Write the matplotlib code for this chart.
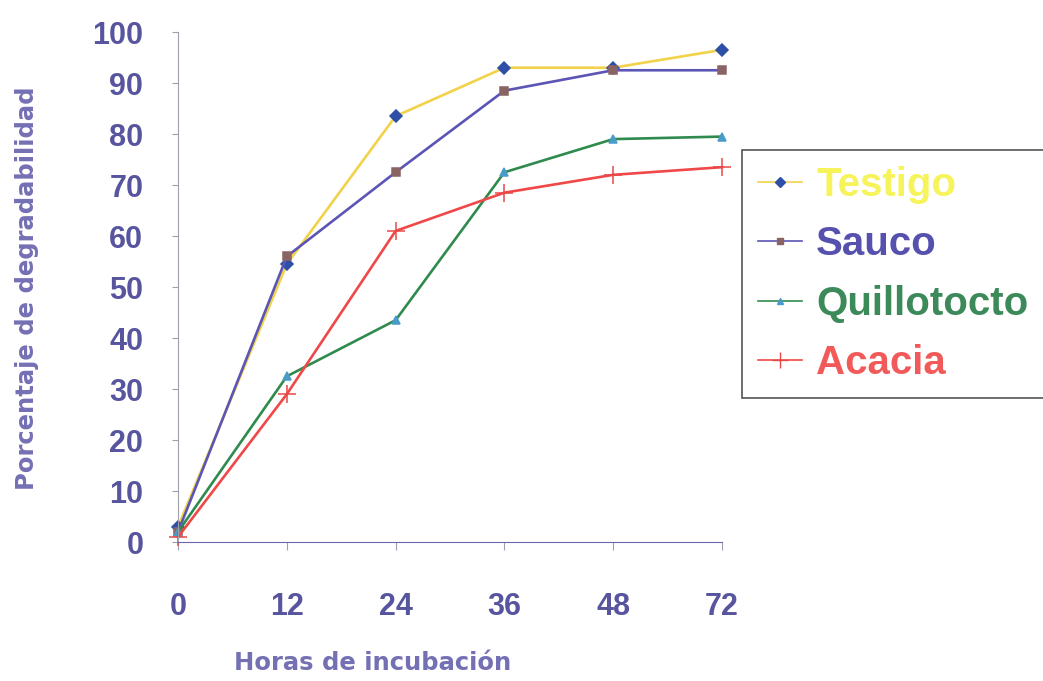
import matplotlib.pyplot as plt
from matplotlib.lines import Line2D

# datos
horas = ['0', '12', '24', '36', '48', '72']
testigo = [3, 54.5, 83.5, 93, 93, 96.5]
sauco = [2, 56, 72.5, 88.5, 92.5, 92.5]
quillotocto = [2, 32.5, 43.5, 72.5, 79, 79.5]
acacia = [1, 29, 61, 68.5, 72, 73.5]

series = ['Testigo', 'Sauco', 'Quillotocto', 'Acacia']
valores = [testigo, sauco, quillotocto, acacia]
line_colors = ['#F2D24A', '#5B55B5', '#2F8A4E', '#F04848']
marker_colors = ['#2E4FA8', '#8A6464', '#4A9CC8', '#E84848']
markers = ['D', 's', '^', '+']
text_colors = ['#F6F45A', '#5650AE', '#3C8A5A', '#F25A5A']
tick_color = '#58559F'
label_color = '#7470B4'

plt.rcParams['font.family'] = ['Liberation Sans', 'DejaVu Sans']

fig = plt.figure(figsize=(10.43, 6.81), dpi=100)
ax = fig.add_axes([0.1707, 0.204, 0.5215, 0.749])

x = list(range(len(horas)))
for nombre, vals, lc, mc, mk in zip(series, valores, line_colors, marker_colors, markers):
    ax.plot(x, vals, color=lc, lw=1.9, marker=mk, markersize=6 if mk != '+' else 13,
            markerfacecolor=mc, markeredgecolor=mc, markeredgewidth=1.1, label=nombre,
            clip_on=False)

ax.set_xlim(0, len(horas) - 1)
ax.set_ylim(0, 100)
ax.set_xticks(x)
ax.set_xticklabels(horas)
ax.set_yticks(range(0, 101, 10))

for side in ['top', 'right']:
    ax.spines[side].set_visible(False)
ax.spines['left'].set_color('#A0A0AC')
ax.spines['bottom'].set_color('#6A68A8')

ax.tick_params(axis='y', length=4, color='#A0A0AC', labelsize=22, labelcolor=tick_color, pad=21)
ax.tick_params(axis='x', length=6, color='#A0A0AC', labelsize=22, labelcolor=tick_color, pad=30)
for lab in ax.get_xticklabels() + ax.get_yticklabels():
    lab.set_fontweight('heavy')

fig.text(0.026, 0.576, 'Porcentaje de degradabilidad', fontsize=17.5, fontweight='bold',
         family='DejaVu Sans', color=label_color, rotation=90, ha='center', va='center')
fig.text(0.357, 0.026, 'Horas de incubación', fontsize=17.5, fontweight='bold',
         family='DejaVu Sans', color=label_color, ha='center', va='center')

handles = [Line2D([0], [0], color=lc, lw=1.2, marker=mk, markersize=5 if mk != '+' else 12,
                  markerfacecolor=mc, markeredgecolor=mc)
           for lc, mc, mk in zip(line_colors, marker_colors, markers)]
leg = fig.legend(handles, series, loc='upper left', mode='expand',
                 bbox_to_anchor=(0.711, 0.42, 0.31, 0.36),
                 borderaxespad=0, prop={'weight': 'bold', 'size': 29},
                 handlelength=1.1, handletextpad=0.35, labelspacing=0.53,
                 borderpad=0.4, fancybox=False, framealpha=1)
leg.get_frame().set_edgecolor('#555555')
leg.get_frame().set_linewidth(1.2)
for t, c in zip(leg.get_texts(), text_colors):
    t.set_color(c)

fig.savefig('out.png', dpi=100)
